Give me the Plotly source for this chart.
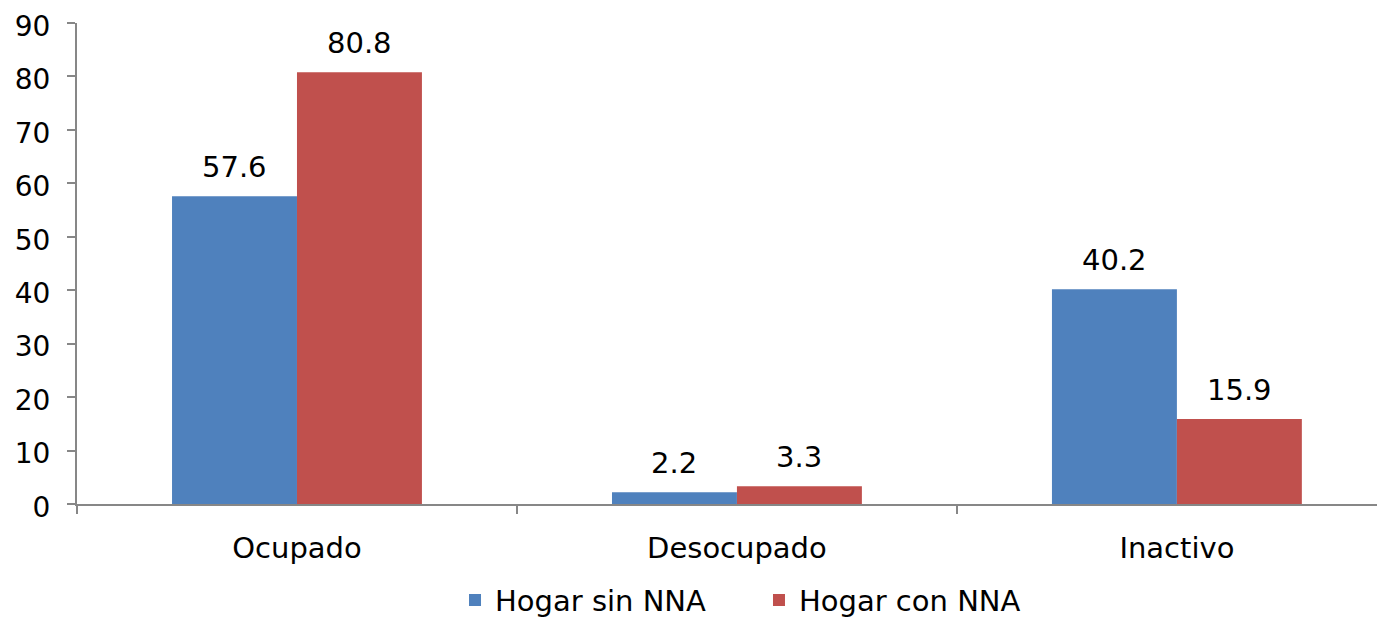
import plotly.graph_objects as go

categories = ["Ocupado", "Desocupado", "Inactivo"]
sin_nna = [57.6, 2.2, 40.2]
con_nna = [80.8, 3.3, 15.9]
series_names = ["Hogar sin NNA", "Hogar con NNA"]
y_ticks = [0, 10, 20, 30, 40, 50, 60, 70, 80, 90]

FONT = "DejaVu Sans"
FS = 29
AXIS_COLOR = "#878787"
COLORS = ["#4F81BD", "#C0504D"]

fig = go.Figure()
for name, vals, color, lg in [(series_names[0], sin_nna, COLORS[0], "legend"),
                              (series_names[1], con_nna, COLORS[1], "legend2")]:
    fig.add_trace(go.Bar(
        x=categories, y=vals, name=name, legend=lg,
        marker=dict(color=color, line=dict(width=0)),
    ))

# data labels above bars (offset to each bar in the group)
for vals, xshift in [(sin_nna, -62.5), (con_nna, 62.5)]:
    for c, v in zip(categories, vals):
        fig.add_annotation(
            x=c, y=v, text=f"{v:.1f}", showarrow=False,
            xshift=xshift, yshift=29, yanchor="middle", xanchor="center",
            font=dict(family=FONT, size=FS, color="#000000"),
        )

legend_style = dict(orientation="h", y=-0.2, yanchor="middle", xanchor="left",
                    font=dict(family=FONT, size=FS, color="#000000"),
                    itemwidth=30, bgcolor="rgba(0,0,0,0)")

fig.update_layout(
    width=1377, height=614,
    margin=dict(l=69, r=0, t=15, b=118, autoexpand=False),
    paper_bgcolor="white", plot_bgcolor="white",
    barmode="group", bargap=0.432, bargroupgap=0,
    font=dict(family=FONT, size=FS, color="#000000"),
    showlegend=True,
    legend=dict(x=0.289, **legend_style),
    legend2=dict(x=0.5214, **legend_style),
    xaxis=dict(
        type="category", range=[-0.5, 2.473], automargin=False,
        showline=True, linecolor=AXIS_COLOR, linewidth=2,
        ticks="outside", ticklen=8, tickcolor=AXIS_COLOR, tickwidth=2,
        tickson="boundaries", showgrid=False, zeroline=False,
        tickfont=dict(family=FONT, size=FS, color="#000000"),
        ticklabelstandoff=17,
    ),
    yaxis=dict(
        range=[0, 90], tickvals=y_ticks, automargin=False,
        showline=True, linecolor=AXIS_COLOR, linewidth=2,
        ticks="outside", ticklen=8, tickcolor=AXIS_COLOR, tickwidth=2,
        showgrid=False, zeroline=False, ticklabeloverflow="allow",
        tickfont=dict(family=FONT, size=28, color="#000000"),
        ticklabelstandoff=11, ticklabelshift=3,
    ),
)

fig.write_html("out.html")
